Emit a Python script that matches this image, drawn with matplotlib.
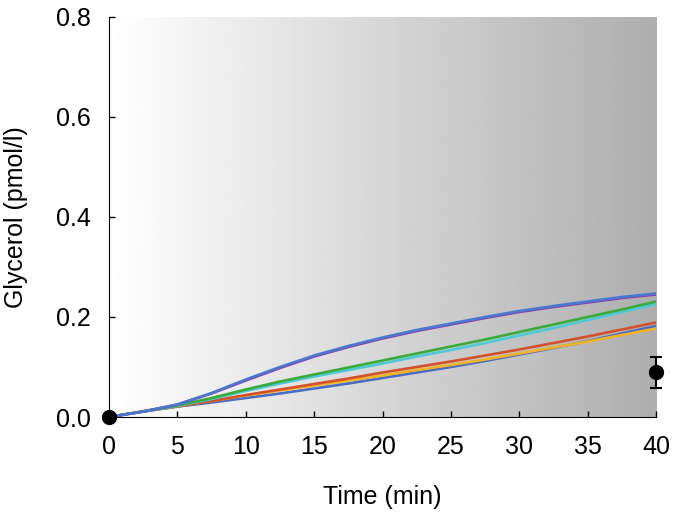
import matplotlib as mpl
import matplotlib.pyplot as plt
import numpy as np

plt.rcParams['font.family'] = ['Liberation Sans', 'DejaVu Sans']

# model curves, every 2.5 min
time = [0, 2.5, 5, 7.5, 10, 12.5, 15, 17.5, 20, 22.5, 25, 27.5, 30, 32.5, 35, 37.5, 40]

purple = [0, 0.011, 0.025, 0.047, 0.073, 0.098, 0.121, 0.140, 0.157, 0.172, 0.185, 0.198, 0.210, 0.220, 0.229, 0.238, 0.245]
blue_top = [0, 0.011, 0.025, 0.048, 0.075, 0.100, 0.123, 0.142, 0.159, 0.174, 0.187, 0.200, 0.212, 0.222, 0.231, 0.240, 0.247]
green = [0, 0.011, 0.023, 0.038, 0.055, 0.071, 0.085, 0.099, 0.113, 0.127, 0.141, 0.155, 0.170, 0.185, 0.200, 0.215, 0.231]
cyan = [0, 0.011, 0.022, 0.036, 0.052, 0.067, 0.081, 0.094, 0.107, 0.121, 0.134, 0.148, 0.163, 0.178, 0.194, 0.210, 0.226]
red = [0, 0.011, 0.021, 0.032, 0.044, 0.055, 0.066, 0.077, 0.089, 0.100, 0.111, 0.123, 0.135, 0.148, 0.161, 0.175, 0.189]
blue_low = [0, 0.011, 0.021, 0.029, 0.038, 0.047, 0.057, 0.067, 0.078, 0.089, 0.100, 0.112, 0.125, 0.138, 0.152, 0.167, 0.182]
yellow = [0, 0.012, 0.022, 0.032, 0.043, 0.053, 0.063, 0.073, 0.083, 0.094, 0.104, 0.115, 0.127, 0.139, 0.151, 0.164, 0.177]

Curves = [blue_low, yellow, red, cyan, green, purple, blue_top]
Colours = ['#4a6cc4', '#f0b323', '#d4502a', '#4dc8d8', '#3aab3a', '#8a3fa8', '#4a78d0']

# measured data
exp_time = [0, 40]
exp_val = [0.0, 0.09]
exp_err = [0.0, 0.031]

mpl.rc('font', size=18)

fig = plt.figure(figsize=(6.75, 5.14), dpi=100)
ax = fig.add_axes([0.1615, 0.1887, 0.8105, 0.7783])

# grey gradient background
grad = np.linspace(1.0, 0.68, 256).reshape(1, -1)
ax.imshow(grad, cmap='gray', vmin=0, vmax=1, aspect='auto',
          extent=[0, 40, 0, 0.8], zorder=0)

for i in range(len(Curves)):
    ax.plot(time, Curves[i], color=Colours[i], linewidth=1.9, zorder=2)

ax.errorbar(exp_time, exp_val, yerr=exp_err, fmt='o', color='black',
            markersize=10, capsize=4, elinewidth=1.5, capthick=1.5,
            clip_on=False, zorder=5)

ax.set_xlim(0, 40)
ax.set_ylim(0, 0.8)
ax.set_xticks(np.arange(0, 41, 5))
ax.set_yticks([0.0, 0.2, 0.4, 0.6, 0.8])
ax.set_yticklabels(['0.0', '0.2', '0.4', '0.6', '0.8'])

ax.spines['top'].set_visible(False)
ax.spines['right'].set_visible(False)
ax.tick_params(direction='in', length=4, width=1, pad=13, labelsize=18)

ax.set_xlabel('Time (min)', fontsize=18, labelpad=19)
ax.set_ylabel('Glycerol (pmol/l)', fontsize=18, labelpad=20)

fig.savefig('out.png', dpi=100)
